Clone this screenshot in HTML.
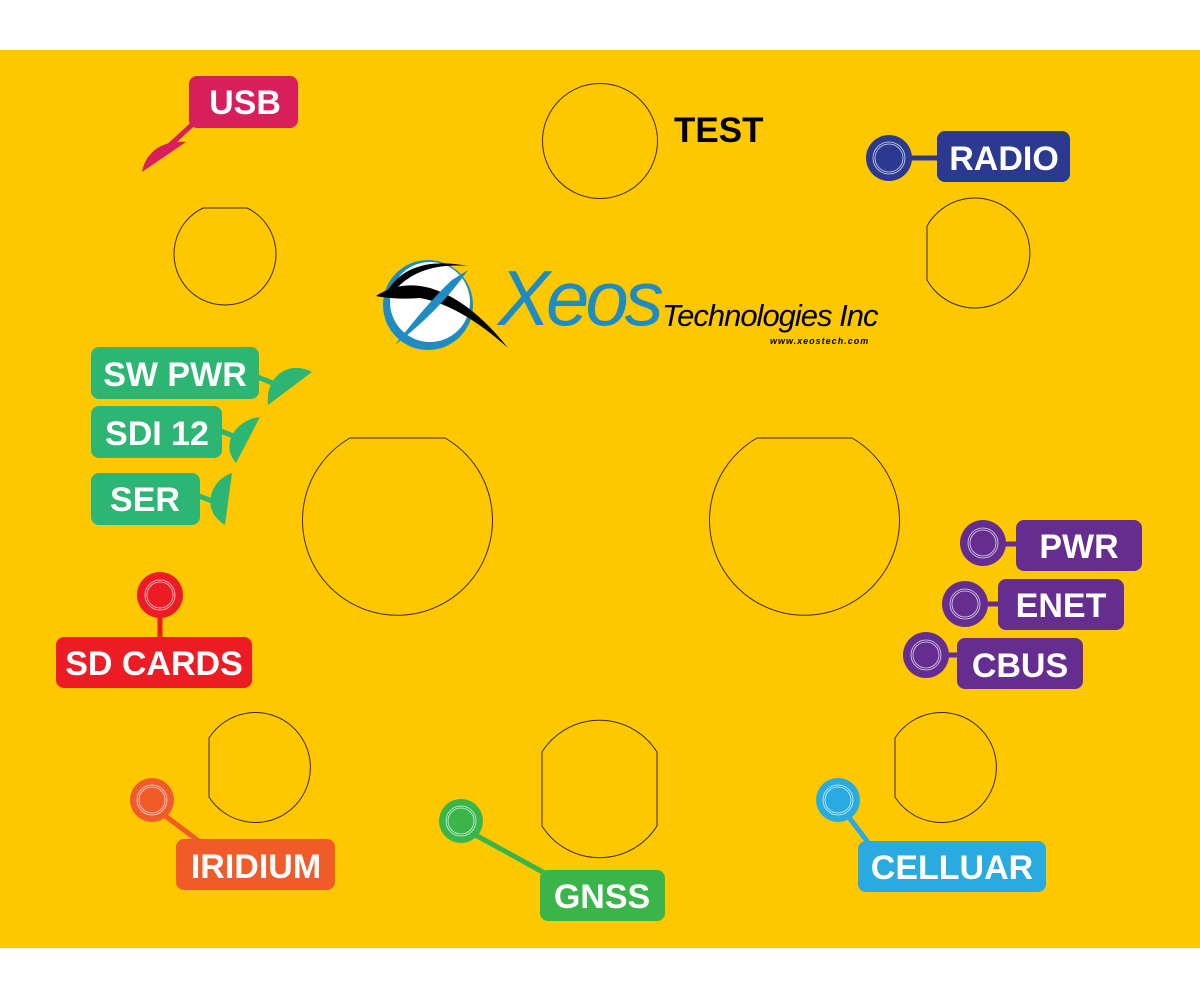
<!DOCTYPE html>
<html><head><meta charset="utf-8"><style>
html,body{margin:0;padding:0;background:#fff;}
svg{display:block;}
text{font-family:"Liberation Sans",Arial,sans-serif;}
.l{fill:#fff;font-weight:bold;font-size:34px;text-anchor:middle;}
.h{fill:none;stroke:#3a2a00;stroke-width:1;}
.ring{fill:none;stroke:#fff;stroke-width:0.8;opacity:.8}
</style></head><body>
<svg width="1200" height="1000" viewBox="0 0 1200 1000" xmlns="http://www.w3.org/2000/svg">
<rect x="0" y="0" width="1200" height="1000" fill="#fff"/>
<rect x="0" y="50" width="1200" height="898" fill="#FDC800"/>

<!-- holes -->
<circle class="h" cx="600" cy="141" r="57.5"/>
<path class="h" d="M203,208 L247,208 A51 51 0 1 1 203,208 Z"/>
<path class="h" d="M927,226 L927,280 A55 55 0 1 0 927,226 Z"/>
<path class="h" d="M350,438 L445,438 A95 95 0 1 1 350,438 Z"/>
<path class="h" d="M757,438 L852,438 A95 95 0 1 1 757,438 Z"/>
<path class="h" d="M209,738 L209,797 A55 55 0 1 0 209,738 Z"/>
<path class="h" d="M895,738 L895,797 A55 55 0 1 0 895,738 Z"/>
<path class="h" d="M542,752 L542,826 A68 68 0 0 0 657,826 L657,752 A68 68 0 0 0 542,752 Z"/>

<text x="674" y="142" style="font-weight:bold;font-size:35px;fill:#000">TEST</text>

<!-- logo -->
<circle cx="428" cy="305" r="45" fill="#1E8BC3"/>
<circle cx="430" cy="302" r="40" fill="#fff"/>
<path d="M376,296 Q400,280 430,288 Q470,300 508,348 Q460,305 420,298 Q395,300 376,296 Z" fill="#000"/>
<path d="M388,290 Q410,255 468,266 Q420,262 395,290 Z" fill="#000"/>
<path d="M468,270 Q440,310 395,345 Q430,300 452,280 Z" fill="#1E8BC3"/>
<text x="498" y="325" style="font-style:italic;font-size:78px;fill:#1E8BC3;letter-spacing:-4px">Xeos</text>
<text x="662" y="326" style="font-style:italic;font-size:31px;fill:#000;letter-spacing:-1px">Technologies Inc</text>
<text x="770" y="344" style="font-style:italic;font-weight:bold;font-size:9px;fill:#000;letter-spacing:1px">www.xeostech.com</text>

<!-- USB -->
<line x1="195" y1="122" x2="168" y2="147" stroke="#D81E5B" stroke-width="5"/>
<path d="M142,172 C146,150 165,140 186,142 Z" fill="#D81E5B"/>
<rect x="189" y="76" width="109" height="52" rx="8" fill="#D81E5B"/>
<text class="l" x="245" y="114">USB</text>

<!-- RADIO -->
<line x1="905" y1="158" x2="940" y2="158" stroke="#2B3990" stroke-width="5"/>
<circle cx="889" cy="158" r="23" fill="#2B3990"/>
<circle class="ring" cx="889" cy="158" r="16"/><circle class="ring" cx="889" cy="158" r="14"/>
<rect x="937" y="131" width="133" height="51" rx="8" fill="#2B3990"/>
<text class="l" x="1004" y="170">RADIO</text>

<!-- green left -->
<line x1="255" y1="376" x2="280" y2="386" stroke="#2DB673" stroke-width="5"/>
<path d="M312,372 C290,360 265,375 268,405 Z" fill="#2DB673"/>
<rect x="91" y="347" width="168" height="52" rx="8" fill="#2DB673"/>
<text class="l" x="175" y="386">SW PWR</text>

<line x1="218" y1="430" x2="236" y2="437" stroke="#2DB673" stroke-width="5"/>
<path d="M260,417 C235,420 220,445 236,463 Z" fill="#2DB673"/>
<rect x="91" y="406" width="131" height="52" rx="8" fill="#2DB673"/>
<text class="l" x="157" y="445">SDI 12</text>

<line x1="196" y1="495" x2="215" y2="502" stroke="#2DB673" stroke-width="5"/>
<path d="M232,473 C210,480 200,510 225,525 Z" fill="#2DB673"/>
<rect x="91" y="473" width="109" height="52" rx="8" fill="#2DB673"/>
<text class="l" x="145" y="511">SER</text>

<!-- SD CARDS -->
<line x1="160" y1="610" x2="160" y2="640" stroke="#ED1C24" stroke-width="5"/>
<circle cx="160" cy="595" r="23" fill="#ED1C24"/>
<circle class="ring" cx="160" cy="595" r="15"/><circle class="ring" cx="160" cy="595" r="13"/>
<rect x="56" y="637" width="196" height="51" rx="8" fill="#ED1C24"/>
<text class="l" x="154" y="675">SD CARDS</text>

<!-- purple -->
<line x1="1000" y1="544" x2="1020" y2="544" stroke="#662D91" stroke-width="5"/>
<circle cx="983" cy="543" r="23" fill="#662D91"/>
<circle class="ring" cx="983" cy="543" r="15"/><circle class="ring" cx="983" cy="543" r="13"/>
<rect x="1016" y="520" width="126" height="51" rx="8" fill="#662D91"/>
<text class="l" x="1079" y="558">PWR</text>

<line x1="982" y1="604" x2="1002" y2="604" stroke="#662D91" stroke-width="5"/>
<circle cx="965" cy="604" r="23" fill="#662D91"/>
<circle class="ring" cx="965" cy="604" r="15"/><circle class="ring" cx="965" cy="604" r="13"/>
<rect x="998" y="579" width="126" height="51" rx="8" fill="#662D91"/>
<text class="l" x="1061" y="617">ENET</text>

<line x1="943" y1="655" x2="962" y2="655" stroke="#662D91" stroke-width="5"/>
<circle cx="926" cy="655" r="23" fill="#662D91"/>
<circle class="ring" cx="926" cy="655" r="15"/><circle class="ring" cx="926" cy="655" r="13"/>
<rect x="957" y="638" width="126" height="51" rx="8" fill="#662D91"/>
<text class="l" x="1020" y="677">CBUS</text>

<!-- IRIDIUM -->
<line x1="160" y1="812" x2="200" y2="842" stroke="#F15A29" stroke-width="5"/>
<circle cx="152" cy="800" r="22" fill="#F15A29"/>
<circle class="ring" cx="152" cy="800" r="15"/><circle class="ring" cx="152" cy="800" r="13"/>
<rect x="176" y="839" width="159" height="51" rx="8" fill="#F15A29"/>
<text class="l" x="256" y="878">IRIDIUM</text>

<!-- GNSS -->
<line x1="470" y1="832" x2="550" y2="876" stroke="#39B54A" stroke-width="5"/>
<circle cx="461" cy="821" r="22" fill="#39B54A"/>
<circle class="ring" cx="461" cy="821" r="15"/><circle class="ring" cx="461" cy="821" r="13"/>
<rect x="540" y="870" width="125" height="51" rx="8" fill="#39B54A"/>
<text class="l" x="602" y="908">GNSS</text>

<!-- CELLUAR -->
<line x1="845" y1="812" x2="870" y2="845" stroke="#29ABE2" stroke-width="5"/>
<circle cx="838" cy="800" r="22" fill="#29ABE2"/>
<circle class="ring" cx="838" cy="800" r="15"/><circle class="ring" cx="838" cy="800" r="13"/>
<rect x="858" y="841" width="188" height="51" rx="8" fill="#29ABE2"/>
<text class="l" x="952" y="879">CELLUAR</text>
</svg>
</body></html>
